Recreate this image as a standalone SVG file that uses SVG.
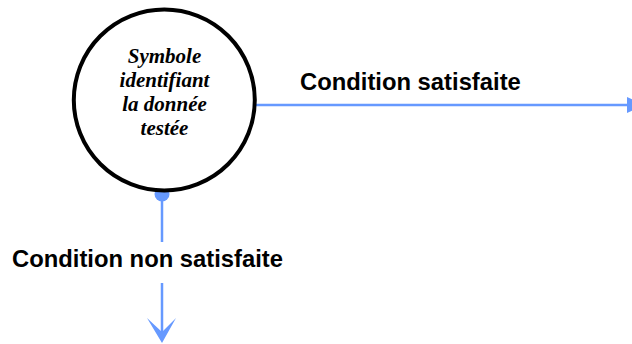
<svg xmlns="http://www.w3.org/2000/svg" width="632" height="344" viewBox="0 0 632 344">
  <style>
    .conn { stroke: #6699ff; stroke-width: 2.5; fill: none; }
    .head { fill: #6699ff; stroke: none; }
    .label { font-family: "Liberation Sans", Arial, sans-serif; font-weight: bold; font-size: 23.8px; fill: #000; }
    .node-text { font-family: "Liberation Serif", "Times New Roman", serif; font-weight: bold; font-style: italic; font-size: 21px; fill: #000; text-anchor: middle; }
  </style>
  <rect width="632" height="344" fill="#ffffff"/>
  <g id="connectors">
    <circle class="head" cx="162" cy="194" r="7.5"/>
    <line class="conn" x1="162" y1="194" x2="162" y2="242"/>
    <line class="conn" x1="162" y1="283" x2="162" y2="334"/>
    <polygon class="head" points="162,343 147,318 162,332 176,318"/>
    <line class="conn" x1="256" y1="105" x2="630" y2="105"/>
    <polygon class="head" points="627,97 645,105 627,113"/>
  </g>
  <g id="node-test">
    <circle cx="164.3" cy="100" r="90.5" fill="#ffffff" stroke="#000000" stroke-width="4"/>
    <text class="node-text" x="164.5" y="63">Symbole</text>
    <text class="node-text" x="164.5" y="87">identifiant</text>
    <text class="node-text" x="164.5" y="111">la donnée</text>
    <text class="node-text" x="164.5" y="135">testée</text>
  </g>
  <g id="label-yes">
    <text class="label" x="300" y="90">Condition satisfaite</text>
  </g>
  <g id="label-no">
    <text class="label" x="12" y="267">Condition non satisfaite</text>
  </g>
</svg>
